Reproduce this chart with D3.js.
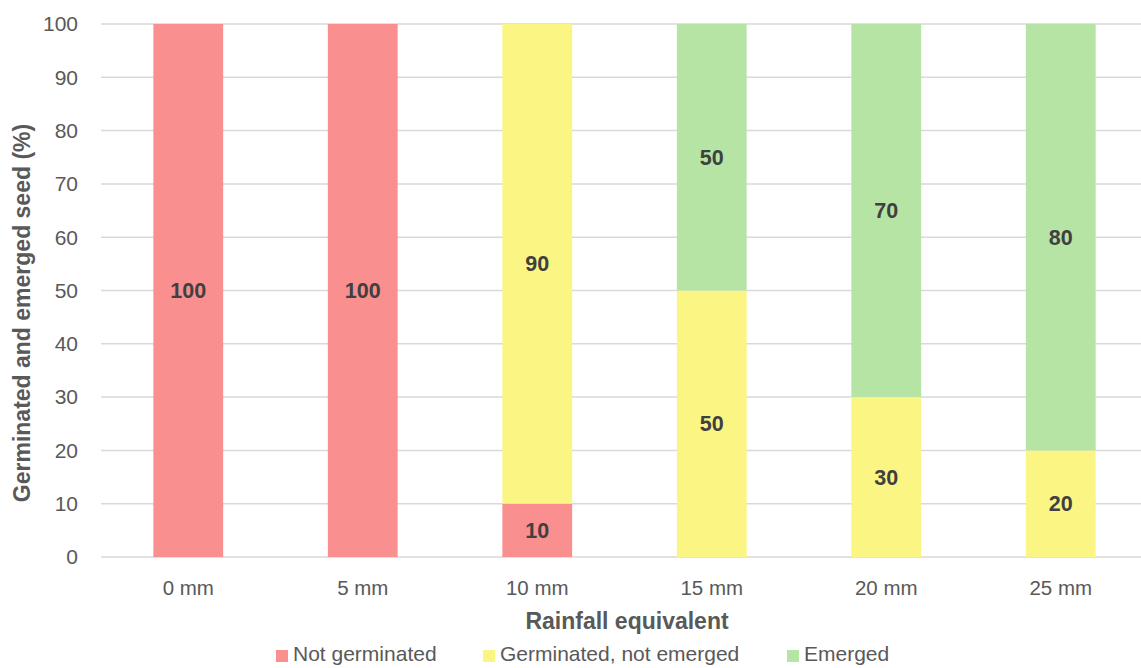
<!DOCTYPE html>
<html><head><meta charset="utf-8">
<script src="https://cdn.jsdelivr.net/npm/d3@7"></script>
<style>body{margin:0;background:#fff;} svg{display:block;font-family:"Liberation Sans",Arial,sans-serif;}</style>
</head><body><svg id="c" width="1141" height="668"></svg>
<script>
const categories = ["0 mm","5 mm","10 mm","15 mm","20 mm","25 mm"];
const notGerminated = [100,100,10,0,0,0];
const germinatedNotEmerged = [0,0,90,50,30,20];
const emerged = [0,0,0,50,70,80];
const seriesNames = ["Not germinated","Germinated, not emerged","Emerged"];
const seriesColors = ["#F98F8F","#FBF584","#B5E4A4"];
const yTicks = [0,10,20,30,40,50,60,70,80,90,100];

const svg = d3.select("#c");
const x = d3.scaleBand().domain(categories).range([101,1148]).paddingInner(0.6).paddingOuter(0.3);
const y = d3.scaleLinear().domain([0,100]).range([557,24]);

// gridlines
svg.append("g").selectAll("line").data(yTicks).join("line")
  .attr("x1",101).attr("x2",1141).attr("y1",d=>y(d)).attr("y2",d=>y(d))
  .attr("stroke","#D9D9D9").attr("stroke-width",1.5);

// y tick labels
svg.append("g").selectAll("text").data(yTicks).join("text")
  .attr("x",78).attr("y",d=>y(d)).attr("dy","0.35em").attr("text-anchor","end")
  .attr("font-size",21).attr("fill","#595959").text(d=>d);

const rows = categories.map((c,i)=>({cat:c,s0:notGerminated[i],s1:germinatedNotEmerged[i],s2:emerged[i]}));
const stack = d3.stack().keys(["s0","s1","s2"])(rows);

stack.forEach((layer,li)=>{
  const g = svg.append("g");
  g.selectAll("rect").data(layer.filter(d=>d[1]-d[0]>0)).join("rect")
    .attr("x",d=>x(d.data.cat)).attr("width",x.bandwidth())
    .attr("y",d=>y(d[1])).attr("height",d=>y(d[0])-y(d[1]))
    .attr("fill",seriesColors[li]);
  g.selectAll("text").data(layer.filter(d=>d[1]-d[0]>0)).join("text")
    .attr("x",d=>x(d.data.cat)+x.bandwidth()/2).attr("y",d=>(y(d[0])+y(d[1]))/2)
    .attr("dy","0.35em").attr("text-anchor","middle").attr("font-size",21.5).attr("font-weight","bold")
    .attr("fill","#404040").text(d=>d[1]-d[0]);
});

// x labels
svg.append("g").selectAll("text").data(categories).join("text")
  .attr("x",d=>x(d)+x.bandwidth()/2).attr("y",588).attr("dy","0.35em").attr("text-anchor","middle")
  .attr("font-size",20.5).attr("fill","#595959").text(d=>d);

svg.append("text").attr("x",627).attr("y",621).attr("dy","0.35em").attr("text-anchor","middle")
  .attr("font-size",23).attr("font-weight","bold").attr("fill","#595959").text("Rainfall equivalent");

svg.append("text").attr("transform","translate(22,313) rotate(-90)").attr("dy","0.35em").attr("text-anchor","middle")
  .attr("font-size",23).attr("font-weight","bold").attr("fill","#595959").text("Germinated and emerged seed (%)");

// legend
const legendX = [276,483,787];
const lg = svg.append("g");
seriesNames.forEach((n,i)=>{
  lg.append("rect").attr("x",legendX[i]).attr("y",650).attr("width",12).attr("height",12).attr("fill",seriesColors[i]);
  lg.append("text").attr("x",legendX[i]+17).attr("y",654).attr("dy","0.35em").attr("font-size",21)
    .attr("fill","#595959").text(n);
});
</script></body></html>
